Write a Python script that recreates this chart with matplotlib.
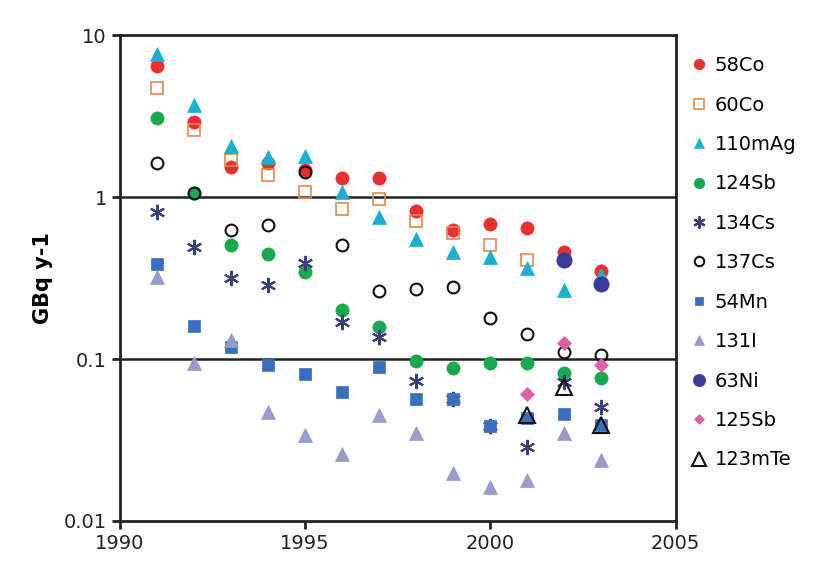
import numpy as np
from matplotlib import pyplot as plt

years = [1991, 1992, 1993, 1994, 1995, 1996, 1997, 1998, 1999, 2000, 2001, 2002, 2003]
nan = np.nan

co58 = [6.5, 2.9, 1.53, 1.62, 1.47, 1.31, 1.32, 0.82, 0.63, 0.68, 0.645, 0.46, 0.35]
co60 = [4.7, 2.6, 1.69, 1.37, 1.07, 0.84, 0.97, 0.71, 0.6, 0.505, 0.41, nan, nan]
ag110m = [7.7, 3.7, 2.07, 1.78, 1.8, 1.07, 0.75, 0.55, 0.46, 0.43, 0.365, 0.267, 0.33]
sb124 = [3.1, 1.06, 0.51, 0.445, 0.345, 0.2, 0.158, 0.097, 0.088, 0.094, 0.095, 0.082, 0.076]
cs134 = [0.81, 0.49, 0.316, 0.286, 0.39, 0.17, 0.137, 0.073, 0.057, 0.0385, 0.0286, 0.072, 0.0506]
cs137 = [1.62, 1.06, 0.63, 0.67, 1.43, 0.505, 0.263, 0.27, 0.28, 0.18, 0.143, 0.11, 0.106]
mn54 = [0.385, 0.16, 0.119, 0.092, 0.081, 0.063, 0.089, 0.057, 0.057, 0.0385, 0.043, 0.046, 0.039]
i131 = [0.32, 0.094, 0.131, 0.047, 0.034, 0.026, 0.045, 0.035, 0.0198, 0.0162, 0.0179, 0.035, 0.0238]
ni63 = [nan] * 11 + [0.41, 0.29]
sb125 = [nan] * 10 + [0.061, 0.126, 0.092]
te123m = [nan] * 10 + [0.045, 0.067, 0.039]

# (label, values, marker, size, face, edge, edge width)
series = [
    ('58Co', co58, 'o', 9.5, '#e8302f', '#e8302f', 0.5),
    ('60Co', co60, 's', 8.5, 'none', '#e08a50', 1.2),
    ('110mAg', ag110m, '^', 9.5, '#1ab0d0', '#1ab0d0', 0.5),
    ('124Sb', sb124, 'o', 9.5, '#1aa84e', '#1aa84e', 0.5),
    ('134Cs', cs134, (6, 2, 0), 11, '#3a3f80', '#3a3f80', 1.5),
    ('137Cs', cs137, 'o', 8.5, 'none', '#111111', 1.5),
    ('54Mn', mn54, 's', 8, '#3a6fc0', '#3a6fc0', 0.5),
    ('131I', i131, '^', 9.5, '#9a9acc', '#9a9acc', 0.5),
    ('63Ni', ni63, 'o', 11, '#3a3a98', '#3a3a98', 0.5),
    ('125Sb', sb125, 'D', 7, '#e060a8', '#e060a8', 0.5),
    ('123mTe', te123m, '^', 12, 'none', '#111111', 1.5),
]

fig = plt.figure(figsize=(8.33, 5.88), dpi=100)
ax = fig.add_axes([0.144, 0.114, 0.667, 0.826])

for label, vals, marker, ms, fc, ec, mew in series:
    ax.plot(years, vals, linestyle='none', marker=marker, markersize=ms,
            markerfacecolor=fc, markeredgecolor=ec, markeredgewidth=mew, label=label)

ax.set_yscale('log')
ax.set_ylim(0.01, 10)
ax.set_xlim(1990, 2005)
ax.set_xticks([1990, 1995, 2000, 2005])
ax.set_yticks([0.01, 0.1, 1, 10])
ax.set_yticklabels(['0.01', '0.1', '1', '10'])
ax.minorticks_off()
for v in [0.1, 1]:
    ax.axhline(v, color='#222222', linewidth=1.8, zorder=0)

for s in ax.spines.values():
    s.set_linewidth(2)
    s.set_color('#222222')
ax.tick_params(direction='out', length=6, width=2, labelsize=14, colors='#222222')
ax.set_ylabel('GBq y-1', fontsize=15, fontweight='bold', labelpad=8)

ax.legend(loc='upper left', bbox_to_anchor=(1.0, 0.985), frameon=False, fontsize=14,
          handletextpad=0.3, labelspacing=1.05, handlelength=1.0, borderaxespad=0.3,
          markerscale=0.8)

fig.savefig('out.png', dpi=100)
